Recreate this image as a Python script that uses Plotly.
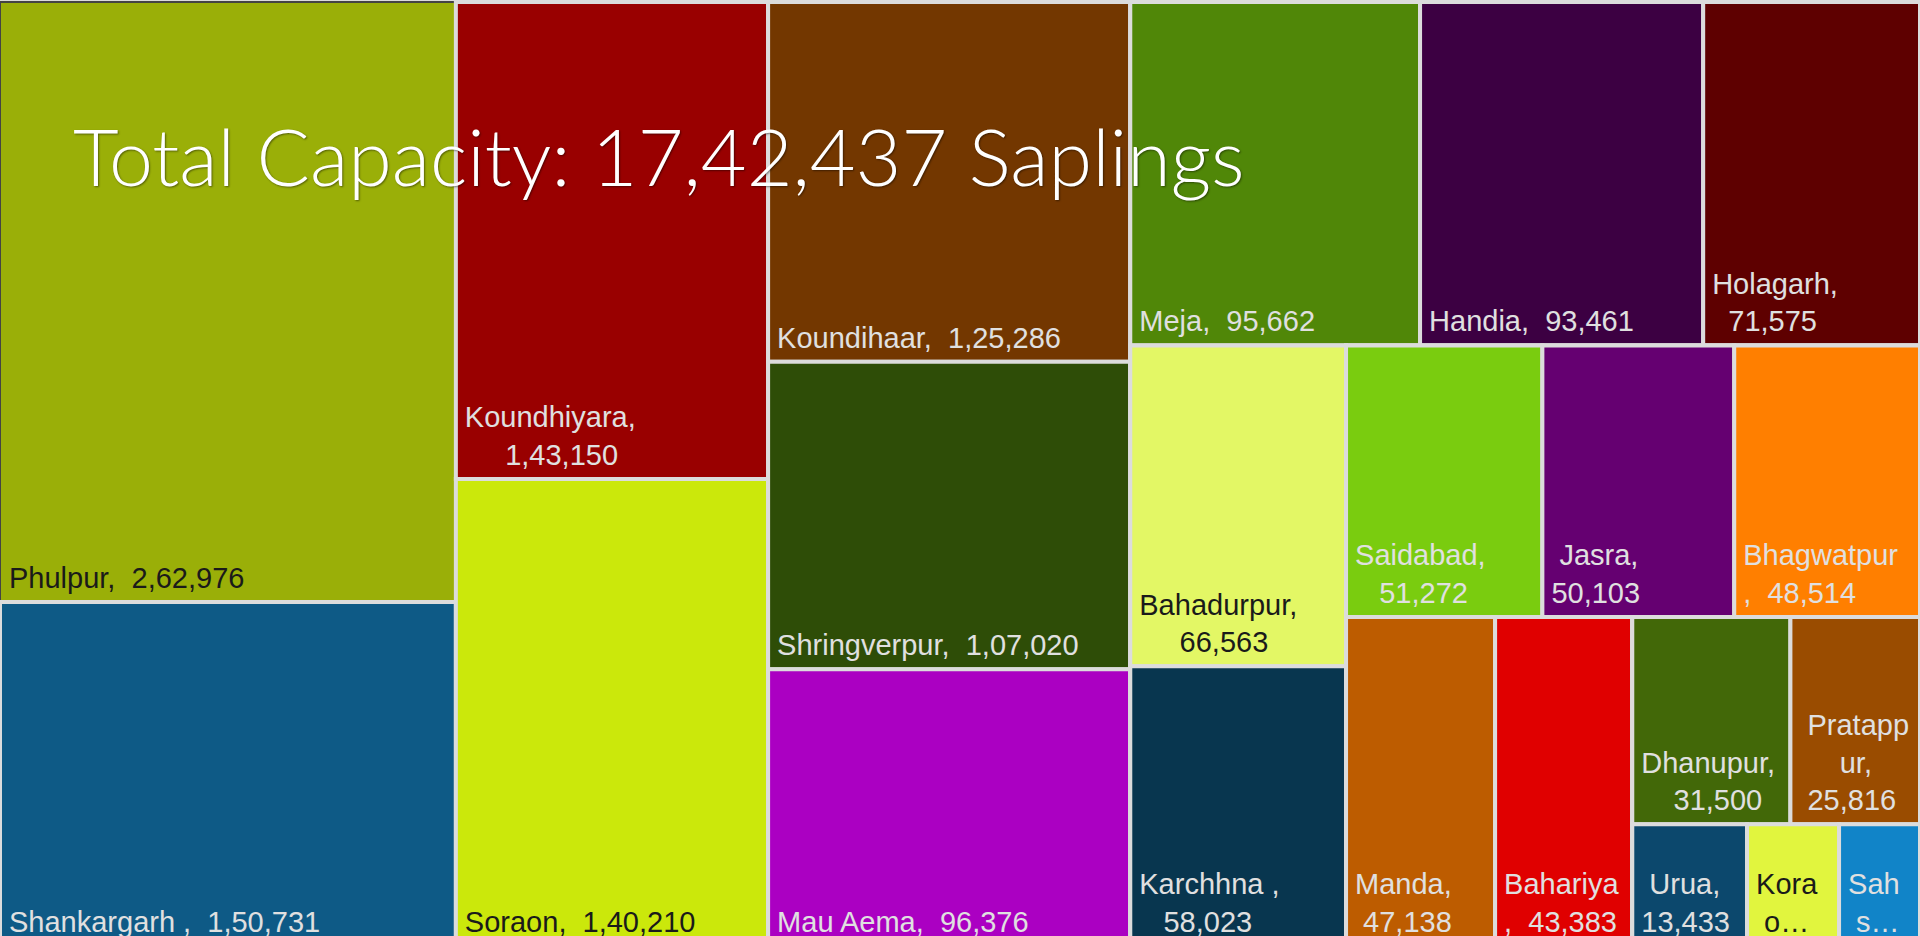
import plotly.graph_objects as go

# ---- data ----
blocks = ["Phulpur", "Shankargarh", "Koundhiyara", "Soraon", "Koundihaar",
          "Shringverpur", "Mau Aema", "Meja", "Handia", "Holagarh",
          "Bahadurpur", "Karchhna", "Saidabad", "Jasra", "Bhagwatpur",
          "Manda", "Bahariya", "Dhanupur", "Pratappur", "Urua", "Koraon", "Sahson"]
saplings = [262976, 150731, 143150, 140210, 125286,
            107020, 96376, 95662, 93461, 71575,
            66563, 58023, 51272, 50103, 48514,
            47138, 43383, 31500, 25816, 13433, 10771, 9474]
# how each label is written inside its tile ({n} = name, {v} = value)
NB = "\u00a0"
label_templates = [
    "{n}," + NB + " {v}",
    "{n} ," + NB + " {v}",
    "{n},<br>" + NB * 5 + "{v}",
    "{n}," + NB + " {v}",
    "{n}," + NB + " {v}",
    "{n}," + NB + " {v}",
    "{n}," + NB + " {v}",
    "{n}," + NB + " {v}",
    "{n}," + NB + " {v}",
    "{n},<br>" + NB * 2 + "{v}",
    "{n},<br>" + NB * 5 + "{v}",
    "{n} ,<br>" + NB * 3 + "{v}",
    "{n},<br>" + NB * 3 + "{v}",
    NB + "{n},<br>{v}",
    "{n}<br>," + NB + " {v}",
    "{n},<br>" + NB + "{v}",
    "{n}<br>," + NB + " {v}",
    "{n},<br>" + NB * 4 + "{v}",
    NB + "Pratapp<br>" + NB * 5 + "ur,<br>" + NB + "{v}",
    NB + "{n},<br>{v}",
    "Kora<br>" + NB + "o…",
    "Sah<br>" + NB + "s…",
]
tile_colors = ["#9aaf08", "#0e5a86", "#990000", "#cbe80b", "#733700",
               "#2e4d07", "#ab00c2", "#508708", "#3c0042", "#5e0000",
               "#e3f765", "#08364f", "#7acc0f", "#650071", "#ff7f00",
               "#bd5c00", "#e00000", "#426808", "#9a4c00", "#0c486d",
               "#e1f53e", "#1184c8"]
dark_text = {"Phulpur", "Soraon", "Bahadurpur", "Koraon"}

# tiling structure of the reference (unlabelled grouping boxes, alternating split direction)
group_ids = ["all", "g1", "g2", "g3", "r1", "rowA", "r2", "colB", "r3", "rowC", "r4", "r5", "rowD", "rowE"]
group_parents = ["", "all", "all", "all", "all", "r1", "r1", "r2", "r2", "r3", "r3", "r4", "r5", "r5"]
block_group = ["g1", "g1", "g2", "g2", "g3", "g3", "g3", "rowA", "rowA", "rowA",
               "colB", "colB", "rowC", "rowC", "rowC", "r4", "r4", "rowD", "rowD",
               "rowE", "rowE", "rowE"]


def indian(n):
    s = str(int(n))
    if len(s) <= 3:
        return s
    last3, rest = s[-3:], s[:-3]
    groups = []
    while len(rest) > 2:
        groups.insert(0, rest[-2:])
        rest = rest[:-2]
    if rest:
        groups.insert(0, rest)
    return ",".join(groups + [last3])


texts = [t.format(n=b, v=indian(v)) for t, b, v in zip(label_templates, blocks, saplings)]
text_colors = ["#1a1a1a" if b in dark_text else "#e0e0e0" for b in blocks]
total = sum(saplings)

# assemble nodes: groups and leaves, keeping sibling order
ids, labels, parents, values, node_text, node_col, node_tcol = [], [], [], [], [], [], []


def add_group(g):
    ids.append(g)
    labels.append("")
    parents.append(group_parents[group_ids.index(g)])
    values.append(0)
    node_text.append("")
    node_col.append("#dcdcdc")
    node_tcol.append("#dcdcdc")


def add_leaf(i):
    ids.append(blocks[i])
    labels.append(blocks[i])
    parents.append(block_group[i])
    values.append(saplings[i])
    node_text.append(texts[i])
    node_col.append(tile_colors[i])
    node_tcol.append(text_colors[i])


def build(g):
    add_group(g)
    for i, bg in enumerate(block_group):
        if bg == g:
            add_leaf(i)
    for gg, p in zip(group_ids, group_parents):
        if p == g:
            build(gg)


build("all")

fig = go.Figure(go.Treemap(
    ids=ids,
    labels=labels,
    parents=parents,
    values=values,
    text=node_text,
    textinfo="text",
    texttemplate="%{text}",
    textposition="bottom left",
    sort=False,
    tiling=dict(packing="slice-dice", pad=0),
    marker=dict(colors=node_col, line=dict(color="#dcdcdc", width=4),
                pad=dict(t=0, l=0, r=0, b=0)),
    textfont=dict(family="Helvetica Neue, Helvetica, Liberation Sans, Arial",
                  size=29, color=node_tcol),
    pathbar=dict(visible=False),
    hoverinfo="none",
))

fig.add_annotation(
    text="Total Capacity: " + indian(total) + " Saplings",
    xref="paper", yref="paper", x=71 / 1920, y=1 - 104 / 946,
    xanchor="left", yanchor="top", showarrow=False,
    font=dict(family="Helvetica Neue, Lato, Inter, Roboto", size=79, color="#ffffff",
              weight=300, shadow="1px 1px 2px rgba(0,0,0,0.45)"),
)

fig.update_layout(
    width=1920, height=946,
    margin=dict(l=0, r=0, t=2, b=0),
    paper_bgcolor="#dcdcdc",
    showlegend=False,
)

post = """
document.body.style.margin='0';
document.body.style.overflow='hidden';
var gd = document.getElementById('{plot_id}');
gd.querySelectorAll('text.slicetext').forEach(function(t){
  var tr = t.getAttribute('transform') || '';
  t.setAttribute('transform', 'translate(6,-5) ' + tr);
});
"""

fig.write_html("out.html", config={"displayModeBar": False}, post_script=post)
